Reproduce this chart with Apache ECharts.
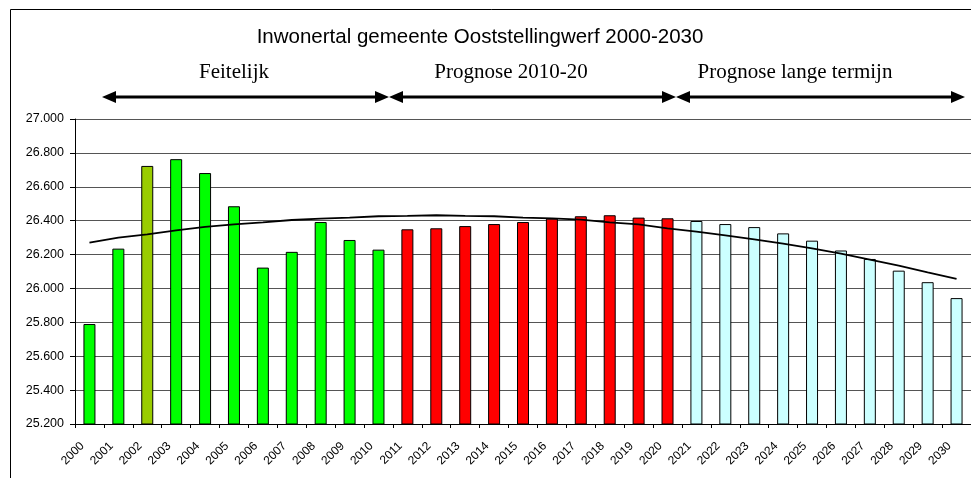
<!DOCTYPE html>
<html>
<head>
<meta charset="utf-8">
<script src="https://cdn.jsdelivr.net/npm/echarts@6/dist/echarts.min.js"></script>
<style>
    html, body {margin: 0; padding: 0; background: #fff;}
    #inwoners {width: 971px; height: 478px;}
</style>
</head>
<body>
<div id="inwoners"></div>
<script>
var jaren = ['2000', '2001', '2002', '2003', '2004', '2005', '2006', '2007', '2008', '2009', '2010',
    '2011', '2012', '2013', '2014', '2015', '2016', '2017', '2018', '2019', '2020',
    '2021', '2022', '2023', '2024', '2025', '2026', '2027', '2028', '2029', '2030'];
// inwonertal per jaar
var inwoners = [25790, 26235, 26723, 26763, 26681, 26485, 26123, 26216, 26392, 26286, 26229,
    26349, 26355, 26368, 26380, 26392, 26412, 26426, 26432, 26418, 26414,
    26398, 26380, 26362, 26325, 26282, 26224, 26174, 26105, 26037, 25943];
// trendlijn
var trend = [26270, 26300, 26319, 26343, 26363, 26378, 26390, 26404, 26412, 26418, 26426,
    26428, 26432, 26428, 26426, 26418, 26414, 26406, 26390, 26378, 26355,
    26335, 26313, 26290, 26264, 26237, 26205, 26170, 26134, 26095, 26057];
var yTicks = [25200, 25400, 25600, 25800, 26000, 26200, 26400, 26600, 26800, 27000];
var periodes = ['Feitelijk', 'Prognose 2010-20', 'Prognose lange termijn'];

function kleur(jaar) {
    jaar = parseInt(jaar, 10);
    if (jaar == 2002) return '#99CC00';
    if (jaar <= 2010) return '#00FF00';
    if (jaar <= 2020) return '#FF0000';
    return '#CCFFFF';
}

function punten(v) {
    return String(v).replace(/\B(?=(\d{3})+(?!\d))/g, '.');
}

// pijl met twee punten
function pijl(x1, x2, y) {
    var h = 6, l = 14;
    return [
        {type: 'line', shape: {x1: x1 + l - 2, y1: y, x2: x2 - l + 2, y2: y}, style: {stroke: '#000', lineWidth: 3}},
        {type: 'polygon', shape: {points: [[x1, y], [x1 + l, y - h], [x1 + l, y + h]]}, style: {fill: '#000'}},
        {type: 'polygon', shape: {points: [[x2, y], [x2 - l, y - h], [x2 - l, y + h]]}, style: {fill: '#000'}}
    ];
}

var tekstStijl = {font: '21px "Liberation Serif", "Times New Roman", serif', fill: '#000', textAlign: 'center', textVerticalAlign: 'middle'};
var graphics = [
    {type: 'rect', shape: {x: 10.5, y: 9.5, width: 1000, height: 500}, style: {fill: 'none', stroke: '#000', lineWidth: 1}, z: 0},
    {type: 'text', x: 480, y: 37, style: {text: 'Inwonertal gemeente Ooststellingwerf 2000-2030', font: '20.5px "Liberation Sans", Arial, sans-serif', fill: '#000', textAlign: 'center', textVerticalAlign: 'middle'}},
    {type: 'text', x: 234, y: 72, style: Object.assign({text: periodes[0]}, tekstStijl)},
    {type: 'text', x: 511, y: 72, style: Object.assign({text: periodes[1]}, tekstStijl)},
    {type: 'text', x: 795, y: 72, style: Object.assign({text: periodes[2]}, tekstStijl)}
].concat(pijl(102, 389, 97)).concat(pijl(389, 676, 97)).concat(pijl(676, 965, 97));

var myChart = echarts.init(document.getElementById('inwoners'));
myChart.setOption({
    animation: false,
    backgroundColor: '#fff',
    graphic: graphics,
    grid: {left: 75, top: 119, width: 897, height: 305},
    xAxis: {
        type: 'category',
        data: jaren,
        boundaryGap: true,
        axisLine: {lineStyle: {color: '#000', width: 1}},
        axisTick: {show: true, length: 4, lineStyle: {color: '#000'}},
        axisLabel: {
            interval: 0,
            rotate: 45,
            margin: 13,
            padding: [0, 10, 0, 0],
            fontSize: 12,
            fontFamily: '"Liberation Sans", Arial, sans-serif',
            color: '#000'
        }
    },
    yAxis: {
        type: 'value',
        min: yTicks[0],
        max: yTicks[yTicks.length - 1],
        interval: 200,
        axisLine: {show: true, lineStyle: {color: '#000', width: 1}},
        axisTick: {show: true, length: 5, lineStyle: {color: '#000'}},
        axisLabel: {
            margin: 11,
            fontSize: 12.5,
            fontFamily: '"Liberation Sans", Arial, sans-serif',
            color: '#000',
            formatter: punten
        },
        splitLine: {lineStyle: {color: '#555', width: 1}}
    },
    series: [
        {
            name: 'Inwoners',
            type: 'bar',
            data: inwoners,
            barWidth: 12,
            itemStyle: {
                color: function (p) { return kleur(p.name); },
                borderColor: '#000',
                borderWidth: 1
            }
        },
        {
            name: 'Trend',
            type: 'line',
            data: trend,
            symbol: 'none',
            smooth: false,
            z: 5,
            lineStyle: {color: '#000', width: 1.8}
        }
    ]
});
</script>
</body>
</html>
